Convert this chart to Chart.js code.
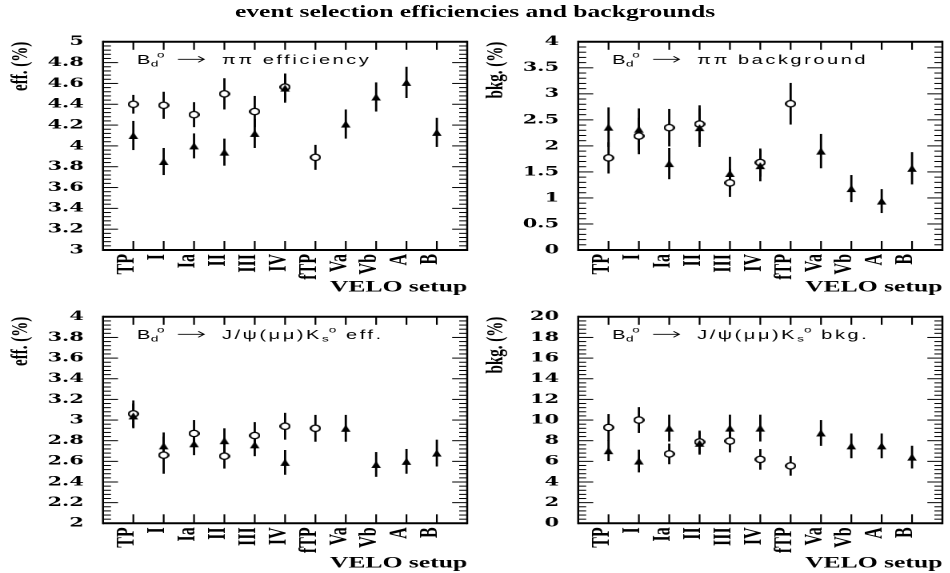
<!DOCTYPE html>
<html>
<head>
<meta charset="utf-8">
<script src="https://cdn.jsdelivr.net/npm/chart.js@4/dist/chart.umd.min.js"></script>
<style>
  html, body { margin: 0; padding: 0; background: #fff; }
  /* the whole page is laid out narrow and widened horizontally */
  #page { position: absolute; left: 0; top: 0; width: 593.75px; height: 573px;
          transform: scaleX(1.6); transform-origin: 0 0; }
  #title { position: absolute; left: 0; top: 3px; width: 593.75px; text-align: center;
           font: bold 16px "Liberation Serif"; color: #000; }
  canvas { position: absolute; }
</style>
</head>
<body>
<div id="page">
  <div id="title">event selection efficiencies and backgrounds</div>
  <canvas id="effPiPi"  width="297" height="275" style="left:0;top:22px"></canvas>
  <canvas id="bkgPiPi"  width="297" height="275" style="left:296.875px;top:22px"></canvas>
  <canvas id="effJpsi"  width="297" height="276" style="left:0;top:297px"></canvas>
  <canvas id="bkgJpsi"  width="297" height="276" style="left:296.875px;top:297px"></canvas>
</div>
<script>
const categories = ['TP', 'I', 'Ia', 'II', 'III', 'IV', 'fTP', 'Va', 'Vb', 'A', 'B'];

// Bd -> pi pi efficiency (%)
const effPiPiOpen    = [4.40, 4.39, 4.30, 4.50, 4.33, 4.565, 3.89, null, null, null, null];
const effPiPiOpenErr = [0.09, 0.13, 0.12, 0.15, 0.15, 0.13, 0.12, null, null, null, null];
const effPiPiTri     = [4.10, 3.85, 4.00, 3.94, 4.12, 4.555, null, 4.21, 4.47, 4.61, 4.13];
const effPiPiTriErr  = [0.14, 0.13, 0.12, 0.13, 0.14, 0.14, null, 0.14, 0.14, 0.15, 0.14];

// Bd -> pi pi background (%)
const bkgPiPiOpen    = [1.77, 2.19, 2.35, 2.42, 1.29, 1.68, 2.81, null, null, null, null];
const bkgPiPiOpenErr = [0.30, 0.35, 0.36, 0.36, 0.27, 0.27, 0.40, null, null, null, null];
const bkgPiPiTri     = [2.36, 2.32, 1.66, 2.35, 1.47, 1.62, null, 1.90, 1.18, 0.94, 1.57];
const bkgPiPiTriErr  = [0.38, 0.40, 0.30, 0.37, 0.32, 0.30, null, 0.33, 0.26, 0.23, 0.31];

// Bd -> J/psi(mu mu) Ks efficiency (%)
const effJpsiOpen    = [3.06, 2.66, 2.87, 2.65, 2.85, 2.94, 2.92, null, null, null, null];
const effJpsiOpenErr = [0.13, 0.18, 0.13, 0.12, 0.13, 0.13, 0.13, null, null, null, null];
const effJpsiTri     = [3.04, 2.75, 2.77, 2.80, 2.76, 2.59, null, 2.92, 2.57, 2.60, 2.68];
const effJpsiTriErr  = [0.12, 0.13, 0.11, 0.12, 0.11, 0.12, null, 0.13, 0.12, 0.12, 0.13];

// Bd -> J/psi(mu mu) Ks background (%)
const bkgJpsiOpen    = [9.28, 10.0, 6.72, 7.88, 7.97, 6.19, 5.56, null, null, null, null];
const bkgJpsiOpenErr = [1.30, 1.25, 1.00, 1.10, 1.10, 1.00, 0.95, null, null, null, null];
const bkgJpsiTri     = [7.03, 6.03, 9.22, 7.75, 9.22, 9.22, null, 8.75, 7.50, 7.50, 6.41];
const bkgJpsiTriErr  = [1.00, 1.10, 1.30, 1.10, 1.30, 1.30, null, 1.25, 1.20, 1.20, 1.10];

// y ranges: [min, max, labelled step]
const effPiPiRange = [3, 5, 0.2];
const bkgPiPiRange = [0, 4, 0.5];
const effJpsiRange = [2, 4, 0.2];
const bkgJpsiRange = [0, 20, 2];

Chart.defaults.color = '#000';

function points(values, errors) {
  const out = [];
  values.forEach((v, i) => {
    if (v !== null) out.push({ x: i + 1, y: v, e: errors[i] });
  });
  return out;
}

// marker bitmaps drawn at 4x and shown at their logical size
function makeMarker(w, h, paint) {
  const k = 4;
  const c = document.createElement('canvas');
  c.width = w * k;
  c.height = h * k;
  const g = c.getContext('2d');
  g.scale(k, k);
  paint(g);
  const img = new Image();
  img.width = w;
  img.height = h;
  return new Promise(resolve => {
    img.onload = () => resolve(img);
    img.src = c.toDataURL();
  });
}

const ringMarker = makeMarker(7, 8, g => {
  g.beginPath();
  g.ellipse(3.5, 4, 2.9, 3.15, 0, 0, Math.PI * 2);
  g.fillStyle = '#fff';
  g.fill();
  g.lineWidth = 1.2;
  g.strokeStyle = '#000';
  g.stroke();
});

const triMarker = makeMarker(7, 8, g => {
  g.beginPath();
  g.moveTo(3.5, 0.5);
  g.lineTo(6.5, 7.5);
  g.lineTo(0.5, 7.5);
  g.closePath();
  g.fillStyle = '#000';
  g.fill();
});

// box, inward ticks on all four sides
const frame = {
  id: 'frame',
  beforeDatasetsDraw(chart) {
    const { ctx, chartArea: a, scales: { x, y } } = chart;
    const line = (x1, y1, x2, y2) => {
      ctx.beginPath();
      ctx.moveTo(x1, y1);
      ctx.lineTo(x2, y2);
      ctx.stroke();
    };
    ctx.save();
    ctx.strokeStyle = '#000';

    const step = y.options.ticks.stepSize / 5;
    ctx.lineWidth = 1;
    for (let k = 0; y.min + k * step <= y.max + 1e-9; k++) {
      const py = y.getPixelForValue(y.min + k * step);
      const len = k % 5 === 0 ? 9.4 : 5;
      line(a.left, py, a.left + len, py);
      line(a.right, py, a.right - len, py);
    }

    ctx.lineWidth = 1.1;
    categories.forEach((c, i) => {
      const px = x.getPixelForValue(i + 1);
      line(px, a.top, px, a.top + 8);
      line(px, a.bottom, px, a.bottom - 9);
    });

    ctx.lineWidth = 2;
    line(a.left, a.top, a.right, a.top);
    line(a.left, a.bottom, a.right, a.bottom);
    ctx.lineWidth = 1.25;
    line(a.left, a.top - 1, a.left, a.bottom + 1);
    line(a.right, a.top - 1, a.right, a.bottom + 1);
    ctx.restore();
  },
};

// vertical error bars, no caps
const errorBars = {
  id: 'errorBars',
  beforeDatasetsDraw(chart) {
    const { ctx, scales: { x, y } } = chart;
    ctx.save();
    ctx.strokeStyle = '#000';
    ctx.lineWidth = 1.4;
    chart.data.datasets.forEach(ds => {
      ds.data.forEach(p => {
        const px = x.getPixelForValue(p.x);
        ctx.beginPath();
        ctx.moveTo(px, y.getPixelForValue(p.y - p.e));
        ctx.lineTo(px, y.getPixelForValue(p.y + p.e));
        ctx.stroke();
      });
    });
    ctx.restore();
  },
};

// "Bd0 -> ..." caption in the top left corner of each frame
const decay = {
  id: 'decay',
  afterDraw(chart, args, opts) {
    const { ctx, chartArea: a } = chart;
    const big = '12.5px "Liberation Sans"';
    const small = '8.5px "Liberation Sans"';
    const spacing = 1.6;
    const x0 = a.left + 21.25;
    const yb = a.top + 22;
    ctx.save();
    ctx.fillStyle = '#000';
    ctx.strokeStyle = '#000';
    ctx.textBaseline = 'alphabetic';
    ctx.textAlign = 'left';

    ctx.font = big;
    ctx.fillText('B', x0, yb);
    const wB = ctx.measureText('B').width;
    ctx.font = small;
    ctx.fillText('d', x0 + wB + 0.3, yb + 2.5);
    ctx.fillText('o', x0 + 12.5, yb - 6.5);

    // arrow
    const ay = yb - 4.5;
    ctx.lineWidth = 0.9;
    ctx.beginPath();
    ctx.moveTo(x0 + 25.6, ay);
    ctx.lineTo(x0 + 41.9, ay);
    ctx.moveTo(x0 + 38.3, ay - 3);
    ctx.lineTo(x0 + 41.9, ay);
    ctx.lineTo(x0 + 38.3, ay + 3);
    ctx.stroke();

    let x = x0 + 53.1;
    opts.parts.forEach(p => {
      ctx.font = p.sub || p.sup ? small : big;
      ctx.letterSpacing = '0px';
      const w = ctx.measureText(p.t).width;
      if (p.sub || p.sup) {
        ctx.fillText(p.t, x, p.sub ? yb + 2.5 : yb - 6.5);
        x += w + (p.sub ? 0 : 1);
      } else {
        ctx.letterSpacing = spacing + 'px';
        ctx.fillText(p.t, x, yb);
        x += w + p.t.length * spacing;
      }
    });
    ctx.restore();
  },
};

function panel(id, cfg, ring, tri) {
  const [ymin, ymax, ystep] = cfg.range;
  return new Chart(document.getElementById(id), {
    type: 'scatter',
    data: {
      datasets: [
        { data: points(cfg.open, cfg.openErr), pointStyle: ring, pointRadius: 4, order: 2 },
        { data: points(cfg.tri, cfg.triErr), pointStyle: tri, pointRadius: 4, order: 1 },
      ],
    },
    options: {
      responsive: false,
      animation: false,
      devicePixelRatio: 2,
      events: [],
      layout: { padding: { top: cfg.padTop, right: 0.625, left: 0, bottom: 0 } },
      plugins: {
        legend: { display: false },
        tooltip: { enabled: false },
        decay: { parts: cfg.caption },
      },
      scales: {
        x: {
          type: 'linear',
          min: 0,
          max: 12,
          afterBuildTicks: s => { s.ticks = categories.map((c, i) => ({ value: i + 1 })); },
          afterFit: s => { s.height = cfg.xHeight; },
          grid: { display: false, drawTicks: false },
          border: { display: false },
          ticks: {
            autoSkip: false,
            minRotation: 90,
            maxRotation: 90,
            padding: 4,
            labelOffset: -4,
            color: '#000',
            font: { family: 'Liberation Serif', weight: 'bold', size: 16 },
            callback: v => categories[v - 1] || '',
          },
          title: {
            display: true,
            text: 'VELO setup',
            align: 'end',
            color: '#000',
            padding: 0,
            font: { family: 'Liberation Serif', weight: 'bold', size: 16 },
          },
        },
        y: {
          min: ymin,
          max: ymax,
          afterFit: s => { s.width = 64.375; },
          grid: { display: false, drawTicks: false },
          border: { display: false },
          ticks: {
            stepSize: ystep,
            padding: 12,
            color: '#000',
            font: { family: 'DejaVu Serif', weight: 'bold', size: 13 },
            callback: v => String(Math.round(v * 100) / 100),
          },
          title: {
            display: true,
            text: cfg.yTitle,
            align: 'end',
            color: '#000',
            padding: { top: 4.2, bottom: 0 },
            font: { family: 'Liberation Serif', weight: 'bold', size: 15 },
          },
        },
      },
    },
    plugins: [frame, errorBars, decay],
  });
}

Promise.all([ringMarker, triMarker]).then(([ring, tri]) => {
  panel('effPiPi', {
    range: effPiPiRange, open: effPiPiOpen, openErr: effPiPiOpenErr, tri: effPiPiTri, triErr: effPiPiTriErr,
    yTitle: 'eff. (%)', padTop: 18, xHeight: 47,
    caption: [{ t: 'ππ efficiency' }],
  }, ring, tri);
  panel('bkgPiPi', {
    range: bkgPiPiRange, open: bkgPiPiOpen, openErr: bkgPiPiOpenErr, tri: bkgPiPiTri, triErr: bkgPiPiTriErr,
    yTitle: 'bkg. (%)', padTop: 18, xHeight: 47,
    caption: [{ t: 'ππ background' }],
  }, ring, tri);
  panel('effJpsi', {
    range: effJpsiRange, open: effJpsiOpen, openErr: effJpsiOpenErr, tri: effJpsiTri, triErr: effJpsiTriErr,
    yTitle: 'eff. (%)', padTop: 13, xHeight: 49.7,
    caption: [{ t: 'J/ψ(μμ)K' }, { t: 's', sub: true }, { t: 'o', sup: true }, { t: ' eff.' }],
  }, ring, tri);
  panel('bkgJpsi', {
    range: bkgJpsiRange, open: bkgJpsiOpen, openErr: bkgJpsiOpenErr, tri: bkgJpsiTri, triErr: bkgJpsiTriErr,
    yTitle: 'bkg. (%)', padTop: 13, xHeight: 49.7,
    caption: [{ t: 'J/ψ(μμ)K' }, { t: 's', sub: true }, { t: 'o', sup: true }, { t: ' bkg.' }],
  }, ring, tri);
});
</script>
</body>
</html>
